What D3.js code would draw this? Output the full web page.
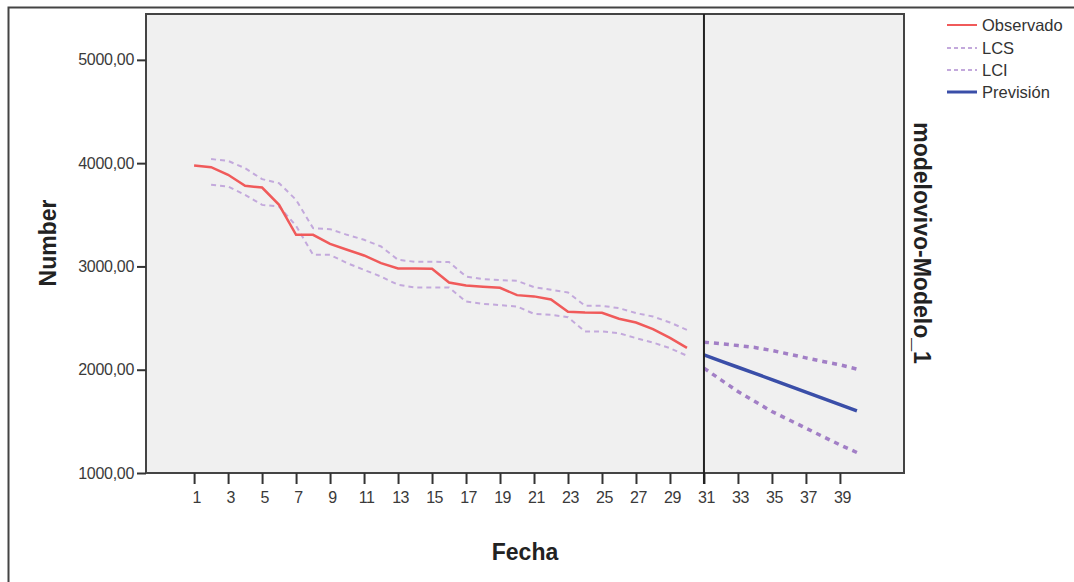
<!DOCTYPE html>
<html>
<head>
<meta charset="utf-8">
<script src="https://cdn.jsdelivr.net/npm/d3@7"></script>
<style>
  body { margin: 0; background: #fff; }
  svg { display: block; font-family: Arial, "Liberation Sans", sans-serif; }
</style>
</head>
<body>
<svg width="1074" height="582"></svg>
<script>
// observed series, periods 1..30
const obsX = d3.range(1, 31);
const observado = [3977, 3961, 3887, 3780, 3764, 3596, 3306, 3306, 3219, 3161,
                   3106, 3032, 2981, 2981, 2978, 2844, 2815, 2803, 2793, 2722,
                   2710, 2680, 2561, 2554, 2551, 2493, 2457, 2393, 2309, 2212];
// fitted limits, periods 2..30
const fitX = d3.range(2, 31);
const lcsFit = [4039, 4022, 3951, 3845, 3806, 3645, 3371, 3361, 3306, 3258,
                3193, 3064, 3045, 3045, 3042, 2902, 2877, 2867, 2861, 2800,
                2774, 2748, 2619, 2619, 2596, 2548, 2515, 2457, 2386];
const lciFit = [3790, 3774, 3693, 3596, 3580, 3393, 3112, 3112, 3032, 2967,
                2902, 2822, 2796, 2796, 2796, 2660, 2638, 2625, 2612, 2541,
                2531, 2509, 2370, 2370, 2354, 2306, 2263, 2209, 2135];
// forecast, periods 31..40
const fcX = d3.range(31, 41);
const prevision = [2144, 2084, 2024, 1964, 1904, 1843, 1783, 1723, 1663, 1602];
const lcsFc = [2267, 2251, 2234, 2215, 2186, 2151, 2115, 2080, 2048, 2006];
const lciFc = [2015, 1902, 1789, 1692, 1595, 1515, 1434, 1353, 1273, 1198];

const xTicks = d3.range(1, 40, 2);
const yTicks = [1000, 2000, 3000, 4000, 5000];
const legendItems = ["Observado", "LCS", "LCI", "Previsión"];

const svg = d3.select("svg");

// outer frame (left + top)
svg.append("path")
  .attr("d", "M8.5,582 V7.5 H1074")
  .attr("fill", "none").attr("stroke", "#444").attr("stroke-width", 2);

const plotLeft = 146, plotTop = 14, plotRight = 904, plotBottom = 473;

const x = d3.scaleLinear().domain([-1.83, 42.77]).range([plotLeft, plotRight]);
const y = d3.scaleLinear().domain([1000, 5444]).range([plotBottom, plotTop]);

svg.append("rect")
  .attr("x", plotLeft).attr("y", plotTop)
  .attr("width", plotRight - plotLeft).attr("height", plotBottom - plotTop)
  .attr("fill", "#f0f0f0").attr("stroke", "#444").attr("stroke-width", 2);

// y axis
const yAxis = svg.append("g")
  .attr("transform", `translate(${plotLeft},0)`)
  .call(d3.axisLeft(y).tickValues(yTicks).tickSize(9).tickPadding(3)
        .tickFormat(d => d3.format(".2f")(d).replace(".", ",")));
yAxis.select(".domain").remove();
yAxis.selectAll("line").attr("stroke", "#333").attr("stroke-width", 2);
yAxis.selectAll("text").attr("font-size", 16).attr("fill", "#3a3a3a")
  .attr("letter-spacing", -0.3)
  .attr("font-family", "Arial, 'Liberation Sans', sans-serif");

// x axis
const xAxis = svg.append("g")
  .attr("transform", `translate(0,${plotBottom})`)
  .call(d3.axisBottom(x).tickValues(xTicks).tickSize(11).tickPadding(8));
xAxis.select(".domain").remove();
xAxis.selectAll("line").attr("stroke", "#333").attr("stroke-width", 2);
xAxis.selectAll("text").attr("font-size", 16).attr("fill", "#3a3a3a")
  .attr("dx", 2).attr("letter-spacing", -0.5)
  .attr("font-family", "Arial, 'Liberation Sans', sans-serif");

// axis titles
svg.append("text")
  .attr("transform", `translate(56,243) rotate(-90)`)
  .attr("text-anchor", "middle")
  .attr("font-size", 23).attr("font-weight", "bold").attr("fill", "#222")
  .text("Number");

svg.append("text")
  .attr("x", 525).attr("y", 560)
  .attr("text-anchor", "middle")
  .attr("font-size", 23).attr("font-weight", "bold").attr("fill", "#222")
  .text("Fecha");

svg.append("text")
  .attr("transform", `translate(914,243) rotate(90)`)
  .attr("text-anchor", "middle")
  .attr("font-size", 23).attr("font-weight", "bold").attr("fill", "#222")
  .text("modelovivo-Modelo_1");

const line = (xs) => d3.line().x((d, i) => x(xs[i])).y(d => y(d));

const plot = svg.append("g");

plot.append("path").datum(lcsFit).attr("d", line(fitX))
  .attr("fill", "none").attr("stroke", "#c3a9dc").attr("stroke-width", 2)
  .attr("stroke-dasharray", "5,4");
plot.append("path").datum(lciFit).attr("d", line(fitX))
  .attr("fill", "none").attr("stroke", "#c3a9dc").attr("stroke-width", 2)
  .attr("stroke-dasharray", "5,4");
plot.append("path").datum(observado).attr("d", line(obsX))
  .attr("fill", "none").attr("stroke", "#f05a5a").attr("stroke-width", 2.5);

plot.append("path").datum(lcsFc).attr("d", line(fcX))
  .attr("fill", "none").attr("stroke", "#a27fc6").attr("stroke-width", 3.5)
  .attr("stroke-dasharray", "5,5");
plot.append("path").datum(lciFc).attr("d", line(fcX))
  .attr("fill", "none").attr("stroke", "#a27fc6").attr("stroke-width", 3.5)
  .attr("stroke-dasharray", "5,5");
plot.append("path").datum(prevision).attr("d", line(fcX))
  .attr("fill", "none").attr("stroke", "#3a4ea8").attr("stroke-width", 3.5);

// forecast start line
svg.append("line")
  .attr("x1", x(31)).attr("x2", x(31))
  .attr("y1", plotTop).attr("y2", plotBottom + 11)
  .attr("stroke", "#222").attr("stroke-width", 2);

// legend
const legendStyle = [
  {stroke: "#f05a5a", dash: null},
  {stroke: "#c3a9dc", dash: "4,3"},
  {stroke: "#c3a9dc", dash: "4,3"},
  {stroke: "#3a4ea8", dash: null}
];
const legendY = [25, 48, 70, 92];
const lg = svg.append("g").selectAll("g").data(legendItems).enter().append("g")
  .attr("transform", (d, i) => `translate(947,${legendY[i]})`);
lg.append("line")
  .attr("x1", 0).attr("x2", 30)
  .attr("stroke", (d, i) => legendStyle[i].stroke)
  .attr("stroke-width", (d, i) => i === 3 ? 3 : 2)
  .attr("stroke-dasharray", (d, i) => legendStyle[i].dash);
lg.append("text")
  .attr("x", 35).attr("dy", "0.35em")
  .attr("font-size", 16.5).attr("fill", "#333")
  .text(d => d);
</script>
</body>
</html>
